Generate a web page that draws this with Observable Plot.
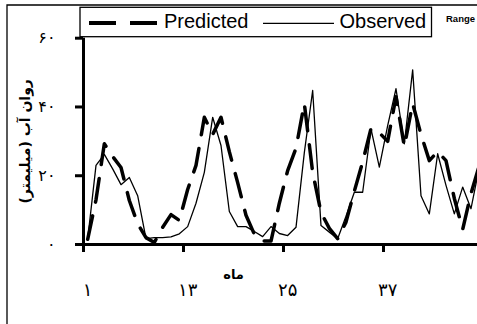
<!DOCTYPE html>
<html><head><meta charset="utf-8">
<script src="https://cdn.jsdelivr.net/npm/d3@7"></script>
<script src="https://cdn.jsdelivr.net/npm/@observablehq/plot@0.6"></script>
<style>body{margin:0;background:#fff;overflow:hidden} svg{display:block}</style>
</head><body><div id="chart"></div>
<script>
const months = d3.range(1, 49);
const observed = [1.5, 23, 26.2, 22, 17.4, 19.5, 14.2, 1.7, 2, 2, 2.2, 3.1, 5.2, 12, 21, 37, 28.8, 9.6, 5.2, 5.2, 3.8, 2.3, 5.2, 3.2, 2.6, 5, 26.7, 44.8, 5.5, 3.6, 1.7, 8.2, 15.2, 15.2, 33.6, 22.5, 34.6, 45.3, 29.3, 50.8, 14.2, 8.9, 26.4, 17.2, 8.9, 16.7, 10.4, 22.5];
const predicted = [1.5, 13, 29.3, 25.6, 22.4, 12.8, 6, 2, 0.6, 5, 8.7, 7, 16, 23, 37, 32, 37, 27, 18, 8.5, 3, 1, 1, 12, 21.5, 28, 41, 21, 9.3, 4.7, 1.7, 6.5, 15.5, 24, 33.7, 32.5, 30, 43, 28.5, 41, 32, 24.4, 27, 24.4, 13.4, 4.4, 14.8, 23];
const yTicks = [0, 20, 40, 60];
const xTickBounds = [0.5, 12.5, 24.5, 36.5];
const xLabelMonths = [1, 13, 25, 37];
const seriesNames = ["Predicted", "Observed"];
const yTitle = "روان آب (میلیمتر)";
const xTitle = "ماه";
const sideNote = "Range";
const fa = d => String(d).replace(/\d/g, c => "۰۱۲۳۴۵۶۷۸۹"[+c]);

const chart = Plot.plot({
  width: 477, height: 324,
  marginLeft: 83, marginRight: 0, marginTop: 37.7, marginBottom: 80,
  style: {fontFamily: "DejaVu Sans", background: "white", color: "black"},
  x: {domain: [0.5, 47.78], axis: null},
  y: {domain: [0, 60], axis: null},
  marks: [
    Plot.lineY(predicted, {x: months, stroke: "black", strokeWidth: 3.5, strokeDasharray: "24,14", clip: true}),
    Plot.lineY(observed, {x: months, stroke: "black", strokeWidth: 1.3, clip: true}),
    Plot.ruleY([0], {strokeWidth: 3}),
    Plot.ruleX([0.5], {strokeWidth: 3}),
    Plot.axisY({ticks: yTicks, tickSize: 8, strokeWidth: 3, tickPadding: 20, fontSize: 16, tickFormat: fa}),
    Plot.axisX({ticks: xTickBounds, tickSize: 8, strokeWidth: 3, tickFormat: () => ""}),
    Plot.text(xLabelMonths, {x: d => d, frameAnchor: "bottom", lineAnchor: "middle", dy: 46, text: fa, fontSize: 18}),
    Plot.text([xTitle], {frameAnchor: "bottom", lineAnchor: "middle", dx: -47, dy: 30, fontWeight: "bold", fontSize: 13}),
    Plot.text([yTitle], {frameAnchor: "left", textAnchor: "middle", lineAnchor: "middle", dx: -58, rotate: -90, fontWeight: "bold", fontSize: 14})
  ]
});

const svg = d3.select(chart);
const font = "Liberation Sans, Arial, sans-serif";
svg.append("path").attr("d", "M7,324V5H477").attr("fill", "none").attr("stroke", "black").attr("stroke-width", 1.3);
const lg = svg.append("g").attr("text-anchor", "start");
lg.append("rect").attr("x", 80).attr("y", 7.3).attr("width", 351.5).attr("height", 29.4)
  .attr("fill", "white").attr("stroke", "black").attr("stroke-width", 1.3);
lg.append("line").attr("x1", 89).attr("x2", 157).attr("y1", 23).attr("y2", 23)
  .attr("stroke", "black").attr("stroke-width", 4).attr("stroke-dasharray", "27,14");
lg.append("text").attr("x", 164).attr("y", 28).attr("font-family", font)
  .attr("font-size", 20).attr("fill", "black").text(seriesNames[0]);
lg.append("line").attr("x1", 263).attr("x2", 334).attr("y1", 23.3).attr("y2", 23.3)
  .attr("stroke", "black").attr("stroke-width", 1.3);
lg.append("text").attr("x", 339.5).attr("y", 28).attr("font-family", font)
  .attr("font-size", 20).attr("fill", "black").text(seriesNames[1]);
svg.append("text").attr("x", 446).attr("y", 22).attr("text-anchor", "start").attr("font-family", font)
  .attr("font-size", 9.5).attr("font-weight", "bold").attr("fill", "black").text(sideNote);

document.getElementById("chart").append(chart);
</script>
</body></html>
